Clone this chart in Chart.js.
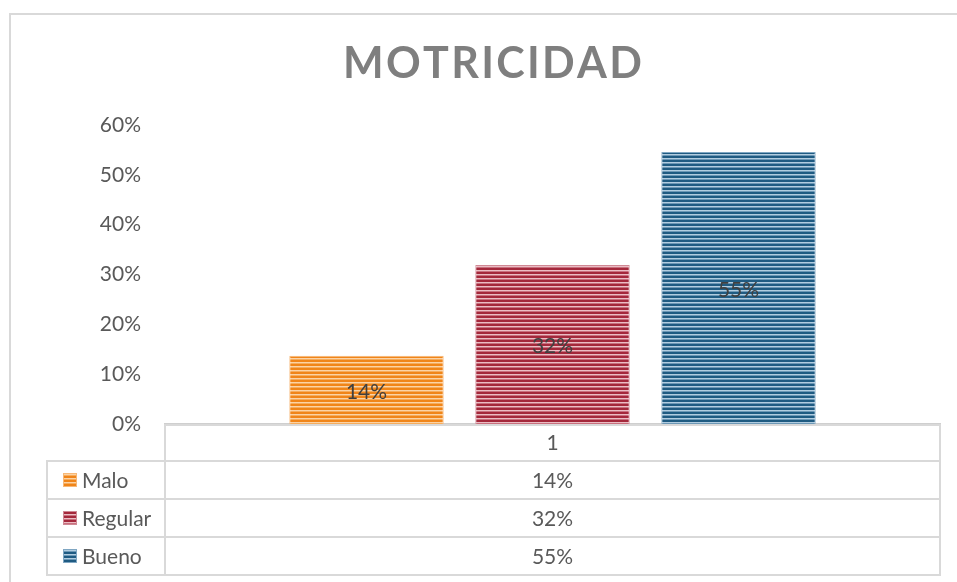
<!DOCTYPE html>
<html>
<head>
<meta charset="utf-8">
<script src="https://cdn.jsdelivr.net/npm/chart.js@4"></script>
<style>
  html, body { margin: 0; padding: 0; background: #fff; overflow: hidden; }
  #wrap { position: relative; width: 957px; height: 582px; }
  #frame { position: absolute; left: 9px; top: 13px; width: 1000px; height: 700px; border: 2px solid #d9d9d9; box-sizing: border-box; }
  #chart { position: absolute; left: 0; top: 0; }
</style>
</head>
<body>
<div id="wrap">
  <div id="frame"></div>
  <canvas id="chart" width="957" height="582"></canvas>
</div>
<script>
const chartTitle = "MOTRICIDAD";
const categories = ["1"];
const seriesNames = ["Malo", "Regular", "Bueno"];
const malo = [0.137];
const regular = [0.319];
const bueno = [0.546];
const yTicks = [0, 0.1, 0.2, 0.3, 0.4, 0.5, 0.6];

const textColor = "#595959";
const lineColor = "#d9d9d9";
const fontFamily = "Lato, 'Open Sans', sans-serif";
const fontSize = 21;

function pct(v) {
    return Math.round(v * 100) + "%";
}

// horizontal striped fill like the Office pattern
function stripes(dark, light, mid) {
    const c = document.createElement("canvas");
    c.width = 4;
    c.height = 4;
    const g = c.getContext("2d");
    g.fillStyle = dark;  g.fillRect(0, 0, 4, 2);
    g.fillStyle = light; g.fillRect(0, 2, 4, 1);
    g.fillStyle = mid;   g.fillRect(0, 3, 4, 1);
    return g.createPattern(c, "repeat");
}

const fills = [
    stripes("#f08519", "#fbd3a6", "#f6ac5c"),
    stripes("#a4283b", "#ebbdc4", "#c8707e"),
    stripes("#1f5b82", "#b2cde0", "#6d98b6")
];
const edgeColors = ["#f7b877", "#cf8894", "#7fa6c2"];

const seriesValues = [malo, regular, bueno];

// title with letter spacing
const titlePlugin = {
    id: "spacedTitle",
    afterDraw(chart) {
        const ctx = chart.ctx;
        ctx.save();
        ctx.font = "bold 43px " + fontFamily;
        ctx.fillStyle = "#7f7f7f";
        ctx.textAlign = "left";
        ctx.textBaseline = "middle";
        const span = 297;
        const plain = ctx.measureText(chartTitle).width;
        const spacing = Math.max(0, (span - plain) / (chartTitle.length - 1));
        let x = 343;
        for (const ch of chartTitle) {
            ctx.fillText(ch, x, 64);
            x += ctx.measureText(ch).width + spacing;
        }
        ctx.restore();
    }
};

// value labels centered in each bar
const barLabels = {
    id: "barLabels",
    afterDatasetsDraw(chart) {
        const ctx = chart.ctx;
        ctx.save();
        ctx.font = fontSize + "px " + fontFamily;
        ctx.fillStyle = "#404040";
        ctx.textAlign = "center";
        ctx.textBaseline = "middle";
        chart.data.datasets.forEach((ds, i) => {
            chart.getDatasetMeta(i).data.forEach((bar, j) => {
                ctx.fillText(pct(ds.data[j]), bar.x, (bar.y + bar.base) / 2 + 2);
            });
        });
        ctx.restore();
    }
};

// data table under the axis
const dataTable = {
    id: "dataTable",
    afterDraw(chart) {
        const ctx = chart.ctx;
        const area = chart.chartArea;
        const xs = chart.scales.x;
        const tableLeft = 47;
        const rowH = 38;
        const top = xs.bottom;
        ctx.save();
        ctx.strokeStyle = lineColor;
        ctx.lineWidth = 2;
        // header cell around category label
        ctx.strokeRect(area.left, area.bottom + 1, area.right - area.left, xs.bottom - area.bottom - 1);
        seriesNames.forEach((name, i) => {
            const y = top + i * rowH;
            ctx.strokeStyle = lineColor;
            ctx.strokeRect(tableLeft, y, area.left - tableLeft, rowH);
            ctx.strokeRect(area.left, y, area.right - area.left, rowH);
            // legend key
            ctx.fillStyle = fills[i];
            ctx.fillRect(tableLeft + 16, y + rowH / 2 - 7, 14, 14);
            ctx.strokeStyle = edgeColors[i];
            ctx.lineWidth = 1;
            ctx.strokeRect(tableLeft + 16.5, y + rowH / 2 - 6.5, 13, 13);
            ctx.lineWidth = 2;
            ctx.font = fontSize + "px " + fontFamily;
            ctx.fillStyle = textColor;
            ctx.textBaseline = "middle";
            ctx.textAlign = "left";
            ctx.fillText(name, tableLeft + 35, y + rowH / 2 + 1);
            ctx.textAlign = "center";
            ctx.fillText(pct(seriesValues[i][0]), (area.left + area.right) / 2, y + rowH / 2 + 1);
        });
        ctx.restore();
    }
};

new Chart(document.getElementById("chart"), {
    type: "bar",
    data: {
        labels: categories,
        datasets: seriesNames.map((name, i) => ({
            label: name,
            data: seriesValues[i],
            backgroundColor: fills[i],
            borderColor: edgeColors[i],
            borderWidth: 1,
            categoryPercentage: 0.72,
            barPercentage: 0.83
        }))
    },
    options: {
        responsive: false,
        animation: false,
        layout: { padding: { left: 0, right: 17, top: 125, bottom: 121 } },
        plugins: {
            legend: { display: false },
            title: { display: false },
            tooltip: { enabled: false }
        },
        scales: {
            x: {
                grid: { display: false, drawTicks: false },
                border: { display: true, color: "#cfcfcf", width: 3 },
                ticks: { color: textColor, font: { family: fontFamily, size: fontSize }, padding: 7 },
                afterFit(scale) { scale.height = 37; }
            },
            y: {
                min: 0,
                max: 0.6,
                grid: { display: false, drawTicks: false },
                border: { display: false },
                afterBuildTicks(scale) { scale.ticks = yTicks.map(v => ({ value: v })); },
                ticks: {
                    color: textColor,
                    font: { family: fontFamily, size: fontSize },
                    padding: 24,
                    callback: v => pct(v)
                },
                afterFit(scale) { scale.width = 165; }
            }
        }
    },
    plugins: [titlePlugin, barLabels, dataTable]
});
</script>
</body>
</html>
